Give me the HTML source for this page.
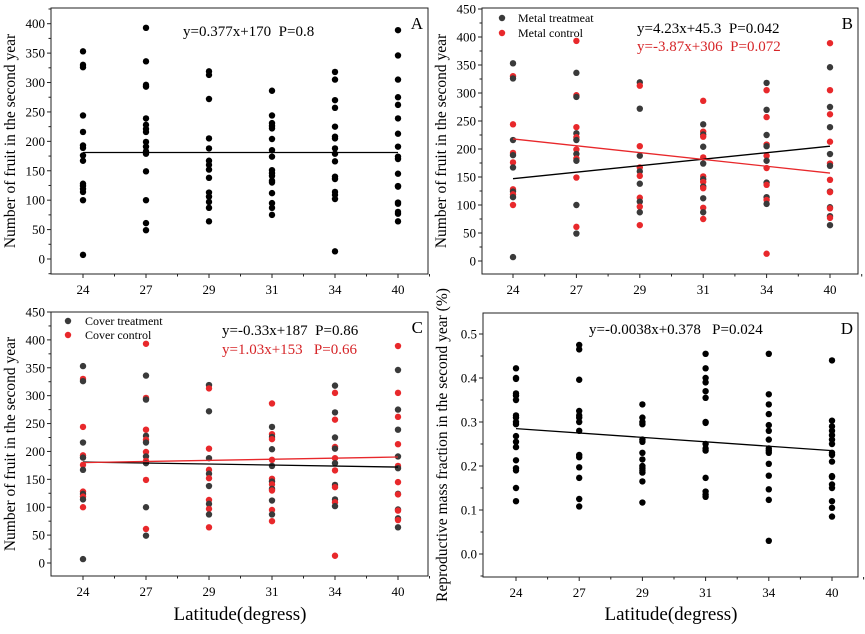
<!DOCTYPE html>
<html><head><meta charset="utf-8"><style>
body{margin:0;background:#fff}
svg,svg text{font-family:"Liberation Serif","DejaVu Serif",serif}
</style></head><body>
<svg id="s" width="865" height="629" viewBox="0 0 865 629" font-family="Liberation Serif, serif" xmlns="http://www.w3.org/2000/svg"></svg>
<script>
const S=document.getElementById('s');let h='';
const A=[[353,330,326,244,216,193,189,176,167,128,124,119,114,100,7],
[393,336,296,293,239,228,221,216,199,191,183,179,149,100,61,49],
[319,313,272,205,188,167,160,152,138,113,106,97,87,64],
[286,244,231,226,222,204,185,174,151,146,141,133,130,112,95,87,75],
[318,305,270,257,225,208,205,188,179,166,140,136,114,109,102,13],
[389,346,305,275,262,239,213,191,174,170,145,124,123,96,94,80,77,64]];
const D=[[.422,.40,.398,.365,.36,.35,.315,.31,.30,.295,.268,.255,.243,.213,.195,.19,.15,.12],
[.475,.465,.396,.325,.315,.31,.30,.28,.225,.22,.197,.173,.125,.108],
[.34,.31,.30,.295,.26,.255,.23,.215,.2,.195,.19,.185,.165,.117],
[.455,.422,.40,.39,.37,.355,.30,.298,.25,.24,.235,.173,.142,.135,.13],
[.455,.363,.34,.318,.293,.28,.26,.24,.235,.23,.205,.178,.147,.123,.03],
[.44,.303,.29,.28,.27,.26,.25,.23,.225,.21,.177,.175,.158,.15,.12,.105,.085]];
const labs=['24','27','29','31','34','40'];
const F='font-family="Liberation Serif, serif"';
function panel(p){
 const X=i=>p.xs+i*p.dx, Y=v=>p.y0-(v-p.vmin)/(p.vmax-p.vmin)*(p.y0-p.y1);
 h+=`<rect x="${p.l}" y="${p.t}" width="${p.r-p.l}" height="${p.b-p.t}" fill="none" stroke="#222" stroke-width="1"/>`;
 for(let i=0;i<6;i++){h+=`<line x1="${X(i)}" y1="${p.b}" x2="${X(i)}" y2="${p.b+4}" stroke="#222"/><text ${F} x="${X(i)}" y="${p.b+20}" font-size="13" text-anchor="middle">${labs[i]}</text>`;
  h+=`<line x1="${X(i)+p.dx/2}" y1="${p.b}" x2="${X(i)+p.dx/2}" y2="${p.b+2.5}" stroke="#222"/>`;}
 for(let v of p.ticks){const y=Y(v);h+=`<line x1="${p.l-4}" y1="${y}" x2="${p.l}" y2="${y}" stroke="#222"/><text ${F} x="${p.l-6}" y="${y+4.5}" font-size="13" text-anchor="end">${p.fmt(v)}</text>`;
  const ym=Y(v+p.step/2);if(ym>p.t)h+=`<line x1="${p.l-2.5}" y1="${ym}" x2="${p.l}" y2="${ym}" stroke="#222"/>`;}
 const ym0=Y(p.ticks[0]-p.step/2);if(ym0<p.b)h+=`<line x1="${p.l-2.5}" y1="${ym0}" x2="${p.l}" y2="${ym0}" stroke="#222"/>`;
 p.data.forEach((col,i)=>col.forEach((v,j)=>{const c=p.col?p.col(i,j):'#000';h+=`<circle cx="${X(i)}" cy="${Y(v)}" r="3.2" fill="${c}"/>`;}));
 p.lines.forEach(L=>h+=`<line x1="${X(0)}" y1="${Y(L[0])}" x2="${X(5)}" y2="${Y(L[1])}" stroke="${L[2]}" stroke-width="1.3"/>`);
 const cy=(p.t+p.b)/2;h+=`<text ${F} transform="translate(${p.l-36},${cy}) rotate(-90)" font-size="15.5" text-anchor="middle">${p.ylab}</text>`;
 h+=`<text ${F} x="${p.r-5}" y="${p.t+21}" font-size="17" text-anchor="end">${p.letter}</text>`;
 h+=p.extra||'';
}
const col=(i,j)=>((i*3+j)%2? '#e8282b':'#3a3a3a');
const col2=(i,j)=>((i+j)%2? '#e8282b':'#3a3a3a');
const sp='&#160;&#160;';
panel({l:51,r:428,t:8,b:274,xs:83,dx:63,y0:259,y1:23.7,vmin:0,vmax:400,ticks:[0,50,100,150,200,250,300,350,400],step:50,fmt:v=>v,data:A,lines:[[181,181,'#000']],ylab:'Number of fruit in the second year',letter:'A',
 extra:`<text ${F} x="183" y="36" font-size="15">y=0.377x+170${sp}P=0.8</text>`});
panel({l:482,r:858,t:8,b:274,xs:513,dx:63.4,y0:261,y1:9,vmin:0,vmax:450,ticks:[0,50,100,150,200,250,300,350,400,450],step:50,fmt:v=>v,data:A,col:col,lines:[[147,205,'#000'],[218,157,'#e8282b']],ylab:'Number of fruit in the second year',letter:'B',
 extra:`<circle cx="502" cy="18" r="3.2" fill="#3a3a3a"/><text ${F} x="518" y="22" font-size="12">Metal treatmeat</text><circle cx="502" cy="33" r="3.2" fill="#e8282b"/><text ${F} x="518" y="37" font-size="12">Metal control</text><text ${F} x="637" y="33" font-size="15">y=4.23x+45.3${sp}P=0.042</text><text ${F} x="637" y="51" font-size="15" fill="#d62528">y=-3.87x+306${sp}P=0.072</text>`});
panel({l:51,r:428,t:312,b:576,xs:83,dx:63,y0:563,y1:312,vmin:0,vmax:450,ticks:[0,50,100,150,200,250,300,350,400,450],step:50,fmt:v=>v,data:A,col:col2,lines:[[181,172,'#000'],[180,190,'#e8282b']],ylab:'Number of fruit in the second year',letter:'C',
 extra:`<circle cx="68" cy="321" r="3.2" fill="#3a3a3a"/><text ${F} x="85" y="325" font-size="12">Cover treatment</text><circle cx="68" cy="335" r="3.2" fill="#e8282b"/><text ${F} x="85" y="339" font-size="12">Cover control</text><text ${F} x="222" y="335" font-size="15">y=-0.33x+187${sp}P=0.86</text><text ${F} x="222" y="354" font-size="15" fill="#d62528">y=1.03x+153${sp}&#160;P=0.66</text>
 <text ${F} x="240" y="620" font-size="19" text-anchor="middle">Latitude(degress)</text>`});
panel({l:483,r:858,t:313,b:577,xs:516,dx:63.2,y0:554,y1:334,vmin:0,vmax:0.5,ticks:[0,.1,.2,.3,.4,.5],step:.1,fmt:v=>v.toFixed(1),data:D,lines:[[.285,.235,'#000']],ylab:'Reproductive mass fraction in the second year (%)',letter:'D',
 extra:`<text ${F} x="589" y="334" font-size="15">y=-0.0038x+0.378${sp}&#160;P=0.024</text><text ${F} x="671" y="620" font-size="19" text-anchor="middle">Latitude(degress)</text>`});
S.innerHTML=h;
</script>
</body></html>
